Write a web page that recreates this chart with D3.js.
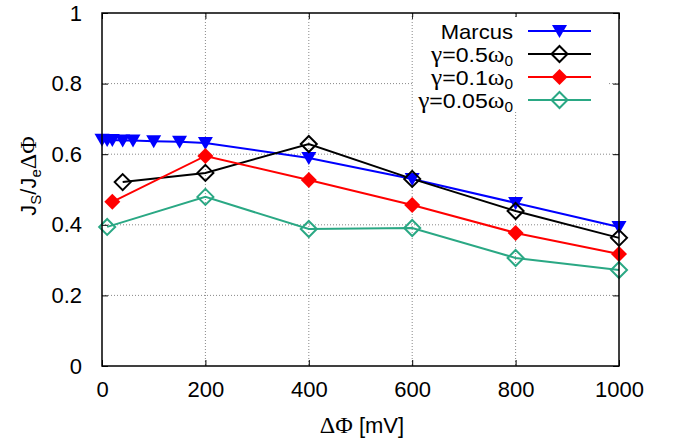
<!DOCTYPE html>
<html><head><meta charset="utf-8">
<script src="https://cdn.jsdelivr.net/npm/d3@7"></script>
<style>body{margin:0;background:#fff}svg{display:block}</style>
</head><body>
<script>
// ---- data ----
const xTicks = [0, 200, 400, 600, 800, 1000];
const yTicks = [0, 0.2, 0.4, 0.6, 0.8, 1];
const yTickLabels = ["0", "0.2", "0.4", "0.6", "0.8", "1"];

const marcusX = [0, 10, 20, 40, 60, 100, 150, 200, 400, 600, 800, 1000];
const marcusY = [0.641, 0.640, 0.640, 0.639, 0.639, 0.637, 0.635, 0.632, 0.589, 0.530, 0.462, 0.394];

const g05X = [40, 200, 400, 600, 800, 1000];
const g05Y = [0.521, 0.547, 0.629, 0.530, 0.439, 0.363];

const g01X = [20, 200, 400, 600, 800, 1000];
const g01Y = [0.465, 0.595, 0.527, 0.456, 0.377, 0.317];

const g005X = [10, 200, 400, 600, 800, 1000];
const g005Y = [0.394, 0.479, 0.388, 0.391, 0.306, 0.272];

const seriesNames = ["Marcus", "γ=0.5ω0", "γ=0.1ω0", "γ=0.05ω0"];
const seriesColors = ["#0000ff", "#000000", "#ff0000", "#2aa884"];

// ---- layout ----
const W = 676, H = 443;
const L = 102, R = 619, T = 13, B = 366;
const FONT = "'Liberation Sans', Arial, sans-serif";
const SERIF = "'Liberation Serif', 'Times New Roman', serif";
const FS = 22;

const svg = d3.select("body").append("svg").attr("width", W).attr("height", H);
const x = d3.scaleLinear().domain([0, 1000]).range([L, R]);
const y = d3.scaleLinear().domain([0, 1]).range([B, T]);

// grid
const grid = svg.append("g");
grid.selectAll("line.vx").data(xTicks.slice(1, -1)).join("line")
  .attr("x1", d => x(d)).attr("x2", d => x(d)).attr("y1", T).attr("y2", B)
  .attr("stroke", "#888").attr("stroke-width", 1).attr("stroke-dasharray", "1,2");
grid.selectAll("line.hy").data(yTicks.slice(1, -1)).join("line")
  .attr("y1", d => y(d)).attr("y2", d => y(d)).attr("x1", L).attr("x2", R)
  .attr("stroke", "#888").attr("stroke-width", 1).attr("stroke-dasharray", "1,2");

// axes (inward ticks, mirrored)
const tickLen = 6;
const xb = svg.append("g").attr("transform", `translate(0,${B})`)
  .call(d3.axisBottom(x).tickValues(xTicks).tickSizeInner(-tickLen).tickSizeOuter(0).tickPadding(15).tickFormat(d3.format("d")));
const xt = svg.append("g").attr("transform", `translate(0,${T})`)
  .call(d3.axisTop(x).tickValues(xTicks).tickSizeInner(-tickLen).tickSizeOuter(0).tickFormat(""));
const yl = svg.append("g").attr("transform", `translate(${L},0)`)
  .call(d3.axisLeft(y).tickValues(yTicks).tickSizeInner(-tickLen).tickSizeOuter(0).tickPadding(20).tickFormat((d, i) => yTickLabels[i]));
const yr = svg.append("g").attr("transform", `translate(${R},0)`)
  .call(d3.axisRight(y).tickValues(yTicks).tickSizeInner(-tickLen).tickSizeOuter(0).tickFormat(""));
[xb, xt, yl, yr].forEach(g => {
  g.select(".domain").remove();
  g.selectAll(".tick line").attr("stroke", "#000").attr("stroke-width", 1);
  g.selectAll("text").attr("font-family", FONT).attr("font-size", FS).attr("fill", "#000");
});
xb.selectAll("text").attr("dy", "0.71em");

// legend background
const lg = svg.append("g");
lg.append("rect").attr("x", 413).attr("y", 17).attr("width", 194).attr("height", 94).attr("fill", "#fff");

// series
function diamond(s) { return `M0,${-s}L${s},0L0,${s}L${-s},0Z`; }
const tri = "M-7.5,-6L7.5,-6L0,7Z";
const series = [
  { xs: marcusX, ys: marcusY, c: seriesColors[0], m: "tri" },
  { xs: g05X, ys: g05Y, c: seriesColors[1], m: "odia" },
  { xs: g01X, ys: g01Y, c: seriesColors[2], m: "fdia" },
  { xs: g005X, ys: g005Y, c: seriesColors[3], m: "odia" },
];
const line = d3.line().x(d => x(d[0])).y(d => y(d[1]));
function drawMarker(g, m, c) {
  if (m === "tri") g.append("path").attr("d", tri).attr("fill", c);
  else if (m === "fdia") g.append("path").attr("d", diamond(8)).attr("fill", c);
  else g.append("path").attr("d", diamond(8)).attr("fill", "none").attr("stroke", c).attr("stroke-width", 2);
}
const plot = svg.append("g");
series.forEach(s => {
  const pts = s.xs.map((v, i) => [v, s.ys[i]]);
  plot.append("path").attr("d", line(pts)).attr("fill", "none").attr("stroke", s.c).attr("stroke-width", 2);
});
series.forEach(s => {
  s.xs.forEach((v, i) => {
    const g = plot.append("g").attr("transform", `translate(${x(v)},${y(s.ys[i])})`);
    drawMarker(g, s.m, s.c);
  });
});

// legend entries
const rowY = [31, 54, 77, 100];
series.forEach((s, i) => {
  const ly = rowY[i];
  lg.append("line").attr("x1", 528).attr("x2", 591).attr("y1", ly).attr("y2", ly).attr("stroke", s.c).attr("stroke-width", 2);
  const g = lg.append("g").attr("transform", `translate(559.5,${ly})`);
  drawMarker(g, s.m, s.c);
  const name = seriesNames[i];
  const greek = name !== "Marcus";
  const t = lg.append("text").attr("x", 0).attr("y", 0).attr("text-anchor", "end")
    .attr("transform", `translate(513,${ly + 7.5}) scale(${greek ? 1.1 : 1.05},1)`)
    .attr("font-family", FONT).attr("font-size", 21);
  if (!greek) { t.text(name); }
  else {
    const num = name.slice(2, name.length - 2);
    t.append("tspan").attr("font-family", SERIF).attr("font-size", 23).text("γ");
    t.append("tspan").text("=" + num);
    t.append("tspan").attr("font-family", SERIF).attr("font-size", 23).text("ω");
    t.append("tspan").attr("font-size", 14).attr("dy", 4).text("0");
  }
});

// frame
svg.append("rect").attr("x", L).attr("y", T).attr("width", R - L).attr("height", B - T)
  .attr("fill", "none").attr("stroke", "#000").attr("stroke-width", 1.5);

// axis titles
const xl = svg.append("text").attr("x", 362).attr("y", 433).attr("text-anchor", "middle")
  .attr("font-family", FONT).attr("font-size", FS);
xl.append("tspan").attr("font-family", SERIF).attr("font-size", 24).text("ΔΦ");
xl.append("tspan").text(" [mV]");

const ylab = svg.append("text").attr("transform", "translate(36,176) rotate(-90)").attr("text-anchor", "middle")
  .attr("font-family", FONT).attr("font-size", FS);
ylab.append("tspan").text("J");
ylab.append("tspan").attr("font-size", 15).attr("dy", 5).text("S");
ylab.append("tspan").attr("dy", -5).text("/J");
ylab.append("tspan").attr("font-size", 15).attr("dy", 5).text("e");
ylab.append("tspan").attr("dy", -5).attr("font-family", SERIF).attr("font-size", 24).text("ΔΦ");
</script>
</body></html>
